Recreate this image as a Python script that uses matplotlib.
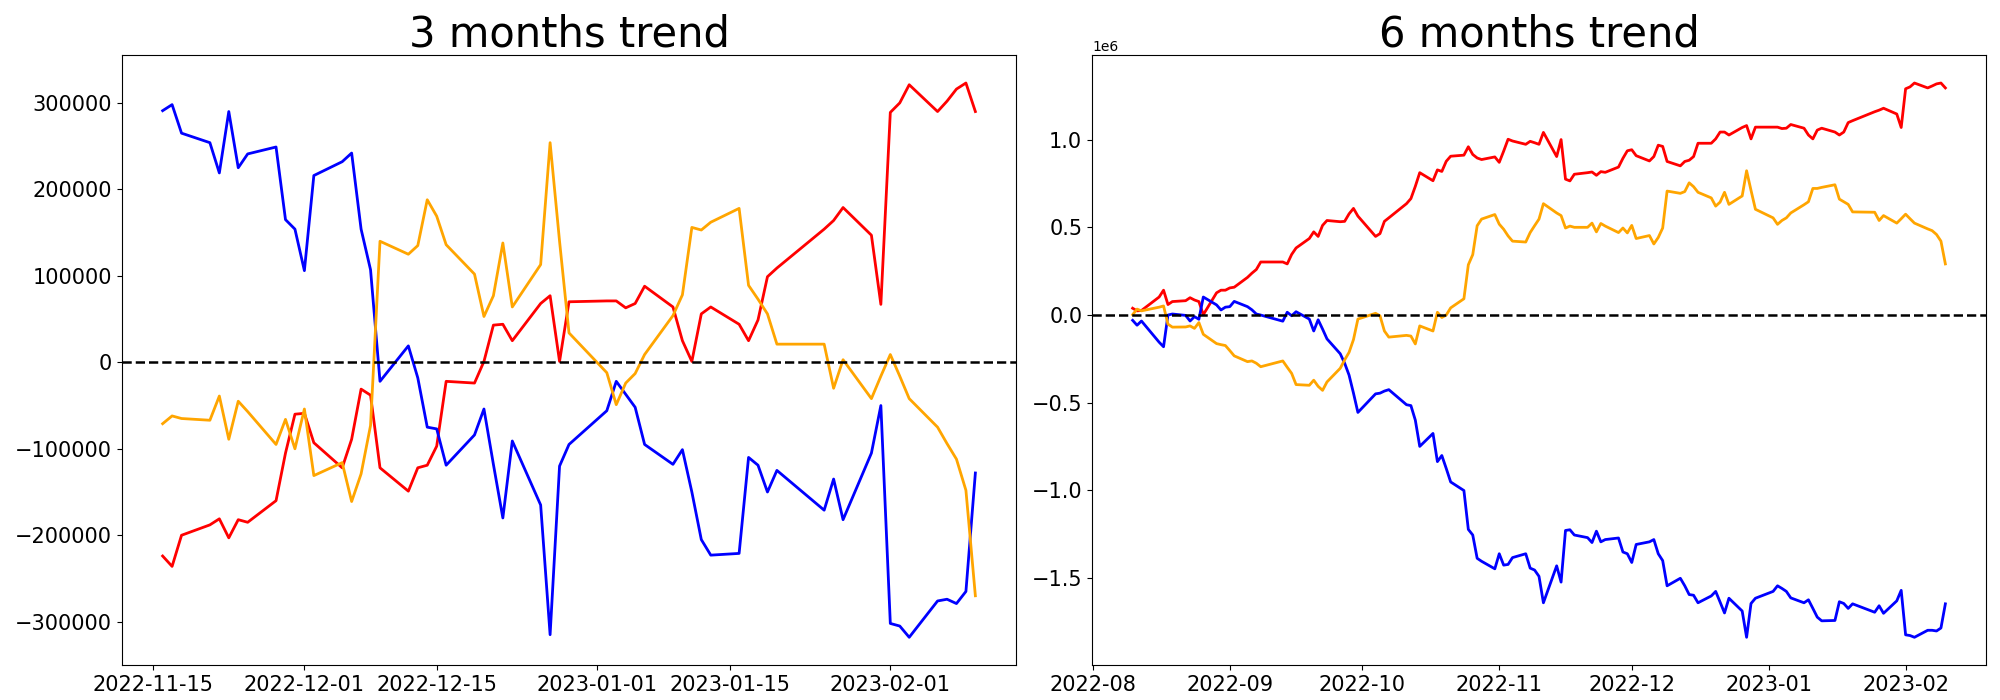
import matplotlib
matplotlib.use('Agg')
import matplotlib.pyplot as plt
import pandas as pd

# 休場日 (trading holidays)
holidays = ['2022-08-15', '2022-09-09', '2022-09-12', '2022-10-03', '2022-10-10',
            '2022-12-30', '2023-01-23', '2023-01-24']
dates_6m = pd.bdate_range('2022-08-10', '2023-02-10', freq='C', holidays=holidays)
dates_3m = dates_6m[dates_6m >= '2022-11-16']

# 3 months
red_3m = [-224000, -236000, -200000, -188000, -181000, -203000, -182000, -185000, -160000, -105000, -60000,
          -59000, -93000, -122000, -89000, -31000, -38000, -122000, -149000, -122000, -119000, -97000,
          -22000, -24000, 1000, 43000, 44000, 25000, 68000, 77000, 1000, 70000,
          71000, 71000, 63000, 68000, 88000, 64000, 25000, 1000, 56000, 64000, 44000, 25000, 49000,
          99000, 109000, 154000, 164000, 179000, 147000, 67000,
          289000, 300000, 321000, 290000, 302000, 316000, 323000, 290000]
blue_3m = [291000, 298000, 265000, 254000, 219000, 290000, 225000, 241000, 249000, 165000, 154000,
           106000, 216000, 232000, 242000, 154000, 107000, -22000, 19000, -18000, -75000, -77000,
           -119000, -84000, -54000, -118000, -180000, -91000, -165000, -315000, -120000, -95000,
           -56000, -22000, -37000, -52000, -95000, -118000, -101000, -150000, -205000, -223000, -221000,
           -110000, -119000, -150000, -125000, -171000, -135000, -182000, -105000, -50000,
           -302000, -305000, -318000, -276000, -274000, -279000, -265000, -128000]
orange_3m = [-71000, -62000, -65000, -67000, -39000, -89000, -45000, -57000, -95000, -66000, -100000,
             -54000, -131000, -116000, -161000, -129000, -73000, 140000, 125000, 135000, 188000, 169000,
             136000, 102000, 53000, 77000, 138000, 64000, 113000, 254000, 140000, 34000,
             -12000, -49000, -24000, -13000, 9000, 54000, 78000, 156000, 153000, 162000, 178000,
             89000, 73000, 56000, 21000, 21000, -30000, 3000, -42000, -16000,
             9000, -16000, -42000, -75000, -94000, -112000, -148000, -270000]

# 6 months
red_6m = [39000, 24000, 26000, 103000, 142000, 60000, 77000, 82000, 99000, 86000, 77000, 2000, 127000, 142000, 142000,
          155000, 159000, 215000, 239000, 260000, 303000, 303000, 292000, 346000, 383000,
          437000, 475000, 449000, 512000, 540000, 533000, 535000, 578000, 609000, 565000,
          449000, 465000, 535000, 555000, 636000, 665000, 735000, 813000, 767000, 829000,
          820000, 878000, 907000, 913000, 961000, 917000, 897000, 888000, 903000,
          872000, 936000, 1004000, 994000, 975000, 992000, 984000, 975000, 1043000, 905000, 1002000,
          776000, 766000, 804000, 813000, 817000, 798000, 819000, 815000, 845000, 895000, 938000,
          944000, 910000, 880000, 905000, 970000, 963000, 877000, 852000, 877000, 884000, 905000,
          981000, 981000, 1006000, 1045000, 1045000, 1028000, 1071000, 1082000, 1006000, 1073000,
          1073000, 1073000, 1065000, 1067000, 1088000, 1067000, 1028000, 1006000, 1056000, 1067000,
          1045000, 1028000, 1045000, 1099000, 1110000, 1161000, 1170000, 1181000, 1148000, 1071000,
          1292000, 1303000, 1325000, 1297000, 1308000, 1320000, 1325000, 1297000]
blue_6m = [-30000, -58000, -34000, -155000, -181000, 0, 6000, -2000, -34000, -9000, -24000, 103000, 58000, 29000, 45000,
           48000, 78000, 48000, 30000, 6000, 0, -35000, 16000, -4000, 19000,
           -23000, -91000, -27000, -80000, -136000, -221000, -275000, -343000, -446000, -556000,
           -450000, -446000, -434000, -426000, -512000, -517000, -600000, -750000, -676000, -837000,
           -802000, -876000, -953000, -1002000, -1224000, -1256000, -1389000, -1406000, -1449000,
           -1363000, -1428000, -1424000, -1385000, -1363000, -1445000, -1456000, -1492000, -1643000, -1432000, -1525000,
           -1230000, -1226000, -1256000, -1271000, -1299000, -1234000, -1295000, -1282000, -1273000, -1353000, -1363000,
           -1413000, -1310000, -1295000, -1282000, -1363000, -1402000, -1546000, -1503000, -1546000, -1596000, -1600000,
           -1643000, -1604000, -1578000, -1639000, -1701000, -1617000, -1690000, -1840000, -1647000, -1617000,
           -1578000, -1546000, -1561000, -1578000, -1615000, -1643000, -1626000, -1675000, -1725000, -1746000,
           -1744000, -1637000, -1647000, -1675000, -1649000, -1697000, -1660000, -1703000, -1632000, -1572000,
           -1826000, -1830000, -1840000, -1800000, -1800000, -1804000, -1787000, -1649000]
orange_6m = [2000, 34000, 24000, 45000, 52000, -52000, -69000, -68000, -62000, -76000, -43000, -110000, -163000, -169000, -174000,
             -203000, -233000, -266000, -262000, -275000, -295000, -262000, -298000, -333000, -397000,
             -401000, -372000, -407000, -430000, -382000, -304000, -256000, -213000, -140000, -23000,
             10000, -4000, -91000, -126000, -116000, -120000, -165000, -62000, -91000, 16000,
             -14000, 0, 41000, 93000, 287000, 345000, 510000, 548000, 574000,
             519000, 490000, 452000, 422000, 417000, 471000, 510000, 548000, 636000, 583000, 568000,
             497000, 508000, 501000, 501000, 525000, 475000, 523000, 508000, 471000, 497000, 469000,
             512000, 437000, 454000, 406000, 443000, 497000, 708000, 695000, 705000, 755000, 733000,
             701000, 669000, 622000, 645000, 701000, 632000, 680000, 824000, 712000, 604000,
             555000, 518000, 540000, 555000, 583000, 630000, 647000, 723000, 723000, 729000,
             744000, 662000, 647000, 632000, 589000, 587000, 540000, 568000, 525000, 550000,
             576000, 550000, 525000, 492000, 482000, 460000, 422000, 292000]


def plot_trend(ax, dates, red, blue, orange, title):
    ax.plot(dates, red, color='red', linewidth=2)
    ax.plot(dates, blue, color='blue', linewidth=2)
    ax.plot(dates, orange, color='orange', linewidth=2)
    ax.axhline(0, color='black', linestyle='--', linewidth=1.8)
    ax.set_title(title, fontsize=30)
    ax.tick_params(labelsize=15)


def main():
    fig, axes = plt.subplots(1, 2, figsize=(20, 7))
    plot_trend(axes[0], dates_3m, red_3m, blue_3m, orange_3m, '3 months trend')
    plot_trend(axes[1], dates_6m, red_6m, blue_6m, orange_6m, '6 months trend')
    fig.subplots_adjust(left=0.061, right=0.993, bottom=0.05, top=0.921, wspace=0.085)
    fig.savefig('out.png', dpi=100)


if __name__ == '__main__':
    main()
